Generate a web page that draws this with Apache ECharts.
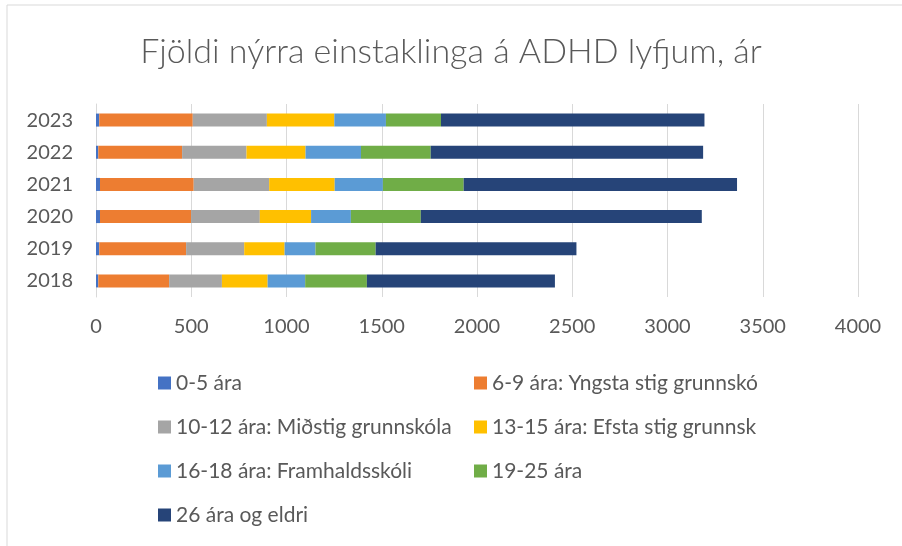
<!DOCTYPE html>
<html>
<head>
<meta charset="utf-8">
<script src="https://cdn.jsdelivr.net/npm/echarts@6/dist/echarts.min.js"></script>
<style>
html, body { margin: 0; padding: 0; background: #fff; }
#main { width: 902px; height: 546px; }
</style>
</head>
<body>
<div id="main"></div>
<script>
// ár (neðst -> efst)
var years = ['2018', '2019', '2020', '2021', '2022', '2023'];
var seriesNames = [
    '0-5 ára',
    '6-9 ára: Yngsta stig grunnskó',
    '10-12 ára: Miðstig grunnskóla',
    '13-15 ára: Efsta stig grunnsk',
    '16-18 ára: Framhaldsskóli',
    '19-25 ára',
    '26 ára og eldri'
];
var colors = ['#4472C4', '#ED7D31', '#A5A5A5', '#FFC000', '#5B9BD5', '#70AD47', '#264478'];

// fjöldi eftir aldurshópi, 2018-2023
var age0_5 = [12, 17, 21, 21, 12, 17];
var age6_9 = [372, 456, 478, 492, 440, 491];
var age10_12 = [277, 305, 361, 396, 338, 389];
var age13_15 = [240, 212, 269, 344, 310, 354];
var age16_18 = [197, 162, 209, 253, 291, 271];
var age19_25 = [324, 316, 367, 424, 366, 289];
var age26plus = [987, 1054, 1475, 1435, 1430, 1383];

var xTicks = [0, 500, 1000, 1500, 2000, 2500, 3000, 3500, 4000];

var allData = [age0_5, age6_9, age10_12, age13_15, age16_18, age19_25, age26plus];

var chart = echarts.init(document.getElementById('main'));

var series = [];
for (var i = 0; i < seriesNames.length; i++) {
    series.push({
        name: seriesNames[i],
        type: 'bar',
        stack: 'total',
        barWidth: 13,
        itemStyle: { color: colors[i] },
        data: allData[i]
    });
}

var legendStyle = {
    orient: 'vertical',
    top: 367,
    itemWidth: 13,
    itemHeight: 13,
    itemGap: 22,
    icon: 'rect',
    textStyle: { fontFamily: 'Lato', fontSize: 21, color: '#595959', lineHeight: 22 }
};

var option = {
    animation: false,
    color: colors,
    title: {
        text: 'Fjöldi nýrra einstaklinga á ADHD lyfjum, ár',
        left: 'center',
        top: 30,
        textStyle: { fontFamily: 'Lato', fontWeight: 300, fontSize: 34, color: '#595959' }
    },
    // tveir dálkar í skýringu
    legend: [
        Object.assign({ left: 153, data: [seriesNames[0], seriesNames[2], seriesNames[4], seriesNames[6]] }, legendStyle),
        Object.assign({ left: 469, data: [seriesNames[1], seriesNames[3], seriesNames[5]] }, legendStyle)
    ],
    graphic: [{
        type: 'rect',
        shape: { x: 7, y: 5, width: 1200, height: 1200 },
        style: { fill: 'none', stroke: '#d9d9d9', lineWidth: 1 },
        silent: true
    }],
    grid: {
        left: 96,
        right: 44,
        top: 104,
        bottom: 249
    },
    xAxis: {
        type: 'value',
        min: xTicks[0],
        max: xTicks[xTicks.length - 1],
        interval: 500,
        axisLine: { show: false },
        axisTick: { show: false },
        splitLine: { lineStyle: { color: '#d9d9d9', width: 1 } },
        axisLabel: {
            margin: 20, fontFamily: 'Lato', fontSize: 20, color: '#595959',
            formatter: function (v) { return String(v); }
        }
    },
    yAxis: {
        type: 'category',
        data: years,
        axisLine: { show: true, lineStyle: { color: '#d9d9d9' } },
        axisTick: { show: false },
        axisLabel: { margin: 23, fontFamily: 'Lato', fontSize: 20, color: '#595959' }
    },
    series: series
};

chart.setOption(option);
</script>
</body>
</html>
